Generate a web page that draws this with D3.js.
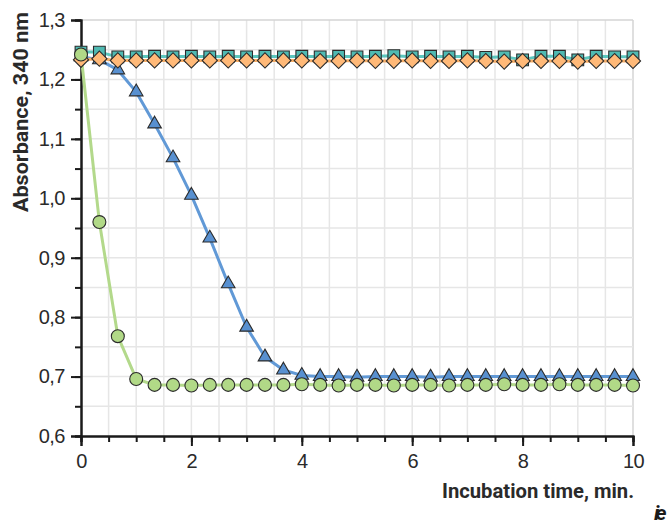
<!DOCTYPE html>
<html>
<head>
<meta charset="utf-8">
<title>Absorbance</title>
<script src="https://d3js.org/d3.v7.min.js"></script>
<style>
  body { margin: 0; background: #fff; }
  svg { display: block; font-family: Roboto, "Liberation Sans", sans-serif; }
</style>
</head>
<body>
<div id="chart"></div>
<script>
// incubation time, min (one reading every 20 s)
const time = [0, 0.333, 0.667, 1, 1.333, 1.667, 2, 2.333, 2.667, 3, 3.333, 3.667, 4, 4.333, 4.667, 5,
  5.333, 5.667, 6, 6.333, 6.667, 7, 7.333, 7.667, 8, 8.333, 8.667, 9, 9.333, 9.667, 10]

const squares = [1.246, 1.246, 1.238, 1.238, 1.239, 1.238, 1.239, 1.238, 1.239, 1.238, 1.239, 1.238, 1.239,
  1.238, 1.239, 1.238, 1.239, 1.240, 1.238, 1.239, 1.238, 1.239, 1.237, 1.238, 1.233, 1.239, 1.239, 1.233,
  1.239, 1.238, 1.238]
const diamonds = [1.233, 1.235, 1.232, 1.232, 1.232, 1.232, 1.232, 1.232, 1.232, 1.232, 1.232, 1.232, 1.232,
  1.231, 1.231, 1.232, 1.231, 1.231, 1.232, 1.231, 1.231, 1.232, 1.231, 1.230, 1.231, 1.231, 1.231, 1.230,
  1.231, 1.231, 1.231]
const triangles = [1.238, 1.233, 1.216, 1.179, 1.125, 1.068, 1.005, 0.933, 0.856, 0.783, 0.733, 0.711, 0.702,
  0.700, 0.700, 0.699, 0.700, 0.700, 0.700, 0.699, 0.700, 0.700, 0.700, 0.700, 0.700, 0.700, 0.700, 0.700,
  0.700, 0.700, 0.700]
const circles = [1.242, 0.960, 0.768, 0.696, 0.686, 0.686, 0.685, 0.686, 0.686, 0.686, 0.686, 0.686, 0.687,
  0.686, 0.685, 0.686, 0.686, 0.685, 0.686, 0.686, 0.685, 0.686, 0.686, 0.687, 0.686, 0.686, 0.687, 0.686,
  0.686, 0.686, 0.685]

const xTicks = [0, 2, 4, 6, 8, 10]
const yTicks = [0.6, 0.7, 0.8, 0.9, 1.0, 1.1, 1.2, 1.3]

const w = 672, h = 524
const svg = d3.select("#chart").append("svg").attr("width", w).attr("height", h)

const x = d3.scaleLinear().domain([0, 10]).range([81, 633])
const y = d3.scaleLinear().domain([0.6, 1.3]).range([436, 20])

const fmt = d => d3.format(".1f")(d).replace(".", ",")

// grid, every 0.5 min and every 0.05
const grid = svg.append("g")
grid.selectAll(".gx").data(d3.range(1, 21).map(i => i * 0.5)).enter().append("line")
  .attr("x1", d => x(d)).attr("x2", d => x(d)).attr("y1", y(1.3)).attr("y2", y(0.6))
  .style("stroke", d => d === 10 ? "#d4d4d4" : "#e6e6e6").style("stroke-width", 1.5)
grid.selectAll(".gy").data(d3.range(1, 15).map(i => 0.6 + i * 0.05)).enter().append("line")
  .attr("x1", x(0)).attr("x2", x(10)).attr("y1", d => y(d)).attr("y2", d => y(d))
  .style("stroke", (d, i) => i === 13 ? "#d4d4d4" : "#e6e6e6").style("stroke-width", 1.5)

// axes
svg.append("g").attr("transform", "translate(" + x(0) + ",0)")
  .call(d3.axisLeft(y).tickValues(d3.range(0, 15).map(i => 0.6 + i * 0.05)).tickSize(6).tickFormat(""))
svg.append("g").attr("transform", "translate(" + x(0) + ",0)")
  .call(d3.axisLeft(y).tickValues(yTicks).tickSize(10).tickPadding(6).tickFormat(fmt))
svg.append("g").attr("transform", "translate(0," + y(0.6) + ")")
  .call(d3.axisBottom(x).tickValues(d3.range(0, 21).map(i => i * 0.5)).tickSize(6).tickFormat(""))
svg.append("g").attr("transform", "translate(0," + y(0.6) + ")")
  .call(d3.axisBottom(x).tickValues(xTicks).tickSize(10).tickPadding(8).tickFormat(d3.format("d")))

svg.selectAll(".domain").style("stroke", "#1a1a1a").style("stroke-width", 2)
svg.selectAll(".tick line").style("stroke", "#1a1a1a").style("stroke-width", 2)
svg.selectAll(".tick text").style("font-size", "20px").style("fill", "#2a2a2a")
  .attr("font-family", null).style("letter-spacing", "-0.5px")

// series
const series = [
  { vals: triangles, line: "#6199d6", fill: "#5890d0", sym: d3.symbolTriangle, size: 80, rot: 0 },
  { vals: squares, line: "#5cc6be", fill: "#4fbab2", sym: d3.symbolSquare, size: 138, rot: 0 },
  { vals: diamonds, line: "#f7ae68", fill: "#ffb978", sym: d3.symbolSquare, size: 115, rot: 45 },
  { vals: circles, line: "#b3d98b", fill: "#b1d987", sym: d3.symbolCircle, size: 132, rot: 0 }
]

const line = d3.line().x((d, i) => x(time[i])).y(d => y(d))

series.forEach(s => {
  svg.append("path").datum(s.vals).attr("d", line)
    .style("fill", "none").style("stroke", s.line).style("stroke-width", 3)
    .style("stroke-linejoin", "round")
})
series.forEach(s => {
  svg.append("g").selectAll("path").data(s.vals).enter().append("path")
    .attr("transform", (d, i) => "translate(" + x(time[i]) + "," + y(d) + ") rotate(" + s.rot + ")")
    .attr("d", d3.symbol().type(s.sym).size(s.size))
    .style("fill", s.fill).style("stroke", "#2b2b2b").style("stroke-width", 1.1)
})

// titles
svg.append("text").attr("transform", "translate(28,12) rotate(-90)")
  .attr("text-anchor", "end").style("font-size", "21px").style("font-weight", "bold").style("fill", "#2a2a2a")
  .attr("textLength", 200).attr("lengthAdjust", "spacingAndGlyphs")
  .text("Absorbance, 340 nm")
svg.append("text").attr("x", 442).attr("y", 498)
  .style("font-size", "21px").style("font-weight", "bold").style("fill", "#2a2a2a")
  .attr("textLength", 192).attr("lengthAdjust", "spacingAndGlyphs")
  .text("Incubation time, min.")
svg.append("text").attr("x", 654).attr("y", 520)
  .style("font-size", "21px").style("font-weight", "bold").style("font-style", "italic")
  .style("letter-spacing", "-4px").style("fill", "#1a1a1a")
  .text("ie")
</script>
</body>
</html>
